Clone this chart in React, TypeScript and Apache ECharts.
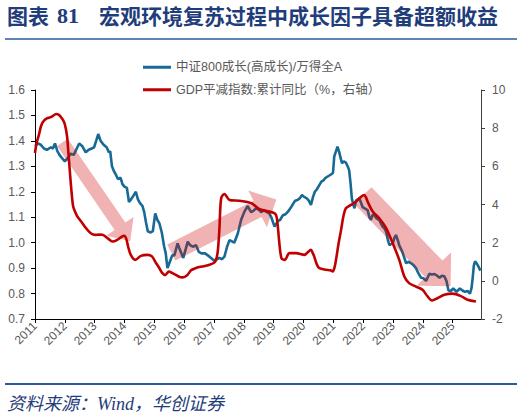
import React, { useEffect, useRef } from "react";
import * as echarts from "echarts";

const TITLE_PREFIX = "图表";
const TITLE_NUM = "81";
const TITLE_MAIN = "宏观环境复苏过程中成长因子具备超额收益";
const SOURCE = "资料来源：Wind，华创证券";
const BLUE_NAME = "中证800成长(高成长)/万得全A";
const RED_NAME = "GDP平减指数:累计同比（%，右轴）";

const yearTicks = [2011, 2012, 2013, 2014, 2015, 2016, 2017, 2018, 2019, 2020, 2021, 2022, 2023, 2024, 2025];

const blueDates = [
  2011.0, 2011.1, 2011.19, 2011.3, 2011.4, 2011.53, 2011.6, 2011.67, 2011.75, 2011.82, 2011.92,
  2012.0, 2012.08, 2012.2, 2012.3, 2012.4, 2012.48, 2012.58, 2012.7, 2012.8, 2012.9, 2012.98,
  2013.05, 2013.12, 2013.2, 2013.3, 2013.4, 2013.48, 2013.52, 2013.58, 2013.65, 2013.72, 2013.78, 2013.87, 2013.93,
  2014.0, 2014.08, 2014.15, 2014.22, 2014.3, 2014.38, 2014.45, 2014.52, 2014.6, 2014.66, 2014.72, 2014.78, 2014.88, 2014.95,
  2015.03, 2015.1, 2015.17, 2015.25, 2015.33, 2015.38, 2015.44, 2015.52, 2015.6, 2015.67, 2015.78, 2015.84, 2015.9, 2015.97,
  2016.04, 2016.12, 2016.2, 2016.29, 2016.4, 2016.49, 2016.58, 2016.7, 2016.85, 2017.0,
  2017.1, 2017.18, 2017.27, 2017.35, 2017.44, 2017.52, 2017.6, 2017.68, 2017.8, 2017.91,
  2018.02, 2018.13, 2018.24, 2018.32, 2018.41, 2018.5, 2018.58, 2018.67, 2018.75, 2018.85, 2018.92,
  2019.03, 2019.14, 2019.22, 2019.31, 2019.4, 2019.48, 2019.56, 2019.64, 2019.72, 2019.8, 2019.88, 2019.95,
  2020.02, 2020.1, 2020.18, 2020.25, 2020.32, 2020.38, 2020.45, 2020.53, 2020.6, 2020.67, 2020.74, 2020.81, 2020.88, 2020.95, 2020.99,
  2021.03, 2021.09, 2021.14, 2021.2, 2021.24, 2021.29, 2021.35, 2021.42, 2021.48, 2021.53, 2021.58, 2021.62, 2021.67, 2021.71, 2021.76, 2021.82, 2021.87, 2021.92, 2021.98,
  2022.05, 2022.15, 2022.21, 2022.26, 2022.32, 2022.37, 2022.45, 2022.54, 2022.6, 2022.65, 2022.72, 2022.77, 2022.83, 2022.88, 2022.94, 2022.99,
  2023.05, 2023.1, 2023.16, 2023.21, 2023.27, 2023.33, 2023.38, 2023.44, 2023.52, 2023.61, 2023.7, 2023.77, 2023.85, 2023.94,
  2024.02, 2024.11, 2024.17, 2024.22, 2024.3, 2024.39, 2024.48, 2024.56, 2024.64, 2024.72, 2024.79, 2024.86, 2024.94,
  2025.02, 2025.13, 2025.24, 2025.33, 2025.41, 2025.5, 2025.58, 2025.63, 2025.67, 2025.71, 2025.75, 2025.81, 2025.87, 2025.93,
];
const blueValues = [
  1.38, 1.39, 1.385, 1.37, 1.365, 1.375, 1.37, 1.39, 1.36, 1.345, 1.33,
  1.32, 1.33, 1.35, 1.345, 1.37, 1.39, 1.38, 1.355, 1.365, 1.37, 1.375,
  1.4, 1.427, 1.4, 1.385, 1.375, 1.355, 1.36, 1.3, 1.28, 1.265, 1.25, 1.255, 1.23,
  1.22, 1.215, 1.16, 1.17, 1.185, 1.2, 1.17, 1.155, 1.145, 1.12, 1.08, 1.045, 1.04, 1.045,
  1.115, 1.09, 1.076, 1.04, 0.984, 0.96, 0.9, 0.925, 0.95, 0.95, 0.997, 0.978, 0.96, 0.94,
  0.97, 1.004, 0.99, 0.984, 0.99, 0.964, 0.958, 0.958, 0.945, 0.93,
  0.935, 0.94, 0.935, 0.945, 0.985, 1.01, 1.005, 1.0, 1.037, 1.09,
  1.122, 1.144, 1.12, 1.125, 1.135, 1.13, 1.12, 1.128, 1.122, 1.115, 1.1,
  1.063, 1.085, 1.09, 1.108, 1.112, 1.122, 1.135, 1.15, 1.165, 1.168, 1.175, 1.187,
  1.18, 1.175, 1.165, 1.148, 1.18, 1.2, 1.21, 1.226, 1.24, 1.245, 1.255, 1.26, 1.265, 1.27, 1.275,
  1.338, 1.36, 1.377, 1.355, 1.335, 1.312, 1.32, 1.315, 1.3, 1.285, 1.23, 1.174, 1.15, 1.135, 1.165, 1.17, 1.175, 1.16, 1.14,
  1.135, 1.128, 1.1, 1.09, 1.11, 1.109, 1.095, 1.089, 1.075, 1.063, 1.055, 1.043, 1.01, 0.99, 0.995, 0.997,
  1.02, 1.03, 1.01, 0.99, 0.975, 0.958, 0.94, 0.919, 0.925, 0.919, 0.91, 0.9, 0.88, 0.862,
  0.86, 0.85, 0.865, 0.878, 0.875, 0.877, 0.87, 0.862, 0.87, 0.868, 0.85, 0.812, 0.81,
  0.82, 0.807, 0.82, 0.812, 0.807, 0.81, 0.8, 0.82, 0.86, 0.91, 0.927, 0.918, 0.905, 0.89,
];

const redDates = [
  2011.0, 2011.05, 2011.13, 2011.2, 2011.27, 2011.41, 2011.56, 2011.71, 2011.8, 2011.86, 2011.97,
  2012.03, 2012.08, 2012.12, 2012.16, 2012.2, 2012.24, 2012.28, 2012.35, 2012.42, 2012.59, 2012.7, 2012.81, 2012.92,
  2013.04, 2013.15, 2013.26, 2013.43, 2013.6, 2013.76, 2013.9, 2013.99,
  2014.06, 2014.12, 2014.21, 2014.36, 2014.55, 2014.77, 2014.92,
  2015.05, 2015.17, 2015.27, 2015.36, 2015.49, 2015.61, 2015.72, 2015.85, 2015.95,
  2016.11, 2016.23, 2016.38, 2016.51, 2016.7, 2016.85, 2017.0, 2017.07, 2017.13, 2017.18, 2017.24, 2017.35, 2017.52, 2017.85,
  2018.25, 2018.53, 2018.97, 2019.08, 2019.13, 2019.18, 2019.26, 2019.37, 2019.53, 2019.75,
  2020.03, 2020.18, 2020.25, 2020.31, 2020.36, 2020.45, 2020.53, 2020.76, 2020.9, 2020.98,
  2021.04, 2021.09, 2021.17, 2021.26, 2021.34, 2021.42, 2021.59, 2021.76, 2021.93,
  2022.04, 2022.1, 2022.15, 2022.32, 2022.54, 2022.77, 2022.99,
  2023.21, 2023.38, 2023.54, 2023.77, 2023.99,
  2024.16, 2024.31, 2024.49, 2024.72, 2025.0, 2025.28, 2025.5, 2025.78,
];
const redValues = [
  6.7, 7.2, 7.64, 8.1, 8.34, 8.52, 8.6, 8.74, 8.7, 8.6, 8.34,
  8.0, 7.5, 6.69, 5.9, 5.11, 4.4, 3.89, 3.6, 3.37, 3.02, 2.78, 2.58, 2.45,
  2.41, 2.42, 2.41, 2.24, 2.06, 2.15, 2.3, 2.36,
  2.2, 1.8, 1.36, 1.1, 1.31, 1.36, 1.28,
  0.95, 0.66, 0.4, 0.3, 0.49, 0.4, 0.31, 0.2, 0.18,
  0.31, 0.55, 0.66, 0.72, 0.78, 0.84, 0.95, 1.1, 1.6, 2.67, 4.33, 4.55, 4.24, 4.2,
  4.07, 3.75, 3.58, 3.45, 3.0, 2.15, 1.19, 1.1, 1.45, 1.45,
  1.36, 1.55, 1.62, 1.45, 1.27, 0.85, 0.66, 0.58, 0.55, 0.49,
  0.7, 1.1, 1.9, 2.67, 3.4, 3.8, 3.98, 4.15, 4.41,
  4.5, 4.35, 4.15, 3.63, 3.28, 2.76, 1.97,
  1.1, 0.23, -0.12, -0.3, -0.47,
  -0.82, -1.03, -0.91, -0.73, -0.67, -0.8, -0.99, -1.08,
];

// Trend arrows, anchored in (year, left-axis value) coordinates
const arrowTails = [
  [2011.92, 1.394],
  [2015.57, 0.961],
  [2021.99, 1.185],
];
const arrowTips = [
  [2014.19, 1.006],
  [2019.09, 1.17],
  [2024.93, 0.829],
];
// arrow shape in pixels (style only)
const ARROW_SIZES = [
  { shaft: 13, headW: 33, headL: 18 },
  { shaft: 18, headW: 41, headL: 21 },
  { shaft: 24, headW: 48, headL: 24 },
];

const NAVY = "#1f3d7a";
const RULE = "#2d5a9e";
const GRAY = "#595959";
const FONT = "'Liberation Sans', 'Noto Sans CJK SC', sans-serif";

function renderArrow(params: any, api: any) {
  const i = params.dataIndex;
  const a = api.coord([api.value(0), api.value(1)]);
  const b = api.coord([api.value(2), api.value(3)]);
  const dx = b[0] - a[0];
  const dy = b[1] - a[1];
  const len = Math.hypot(dx, dy) || 1;
  const ux = dx / len;
  const uy = dy / len;
  const nx = -uy;
  const ny = ux;
  const { shaft, headW, headL } = ARROW_SIZES[i];
  const bx = b[0] - ux * headL;
  const by = b[1] - uy * headL;
  const pts = [
    [a[0] + (nx * shaft) / 2, a[1] + (ny * shaft) / 2],
    [bx + (nx * shaft) / 2, by + (ny * shaft) / 2],
    [bx + (nx * headW) / 2, by + (ny * headW) / 2],
    [b[0], b[1]],
    [bx - (nx * headW) / 2, by - (ny * headW) / 2],
    [bx - (nx * shaft) / 2, by - (ny * shaft) / 2],
    [a[0] - (nx * shaft) / 2, a[1] - (ny * shaft) / 2],
  ];
  return {
    type: "polygon",
    shape: { points: pts },
    style: { fill: "rgba(204,0,0,0.3)" },
  };
}

export default function App() {
  const ref = useRef<HTMLDivElement>(null);

  useEffect(() => {
    document.body.style.margin = "0";
    if (!ref.current) return;
    const chart = echarts.init(ref.current, undefined, { renderer: "svg" });

    const blueData = blueDates.map((d, i) => [d, blueValues[i]]);
    const redData = redDates.map((d, i) => [d, redValues[i]]);
    const arrowData = arrowTails.map((t, i) => [t[0], t[1], arrowTips[i][0], arrowTips[i][1]]);

    chart.setOption({
      animation: false,
      backgroundColor: "#ffffff",
      grid: { left: 35, right: 43, top: 90, bottom: 100, containLabel: false },
      legend: {
        orient: "vertical",
        left: 143,
        top: 61,
        padding: 0,
        itemWidth: 28,
        itemHeight: 3,
        itemGap: 10,
        icon: "rect",
        textStyle: { color: GRAY, fontSize: 12.5, fontFamily: FONT },
        data: [BLUE_NAME, RED_NAME],
      },
      xAxis: {
        type: "value",
        min: 2011,
        max: 2025.95,
        interval: 1,
        axisLine: { show: true, onZero: false, lineStyle: { color: "#000", width: 1 } },
        axisTick: { show: true, length: 4, customValues: yearTicks, lineStyle: { color: "#000" } },
        axisLabel: {
          customValues: yearTicks,
          rotate: 45,
          margin: 5,
          color: GRAY,
          fontSize: 12,
          fontFamily: FONT,
          formatter: (v: number) => String(Math.round(v)),
        },
        splitLine: { show: false },
      },
      yAxis: [
        {
          type: "value",
          min: 0.7,
          max: 1.6,
          interval: 0.1,
          axisLine: { show: true, onZero: false, lineStyle: { color: "#000", width: 1 } },
          axisTick: { show: true, length: 4, lineStyle: { color: "#000" } },
          axisLabel: {
            color: GRAY,
            fontSize: 12,
            fontFamily: FONT,
            margin: 10,
            formatter: (v: number) => v.toFixed(1),
          },
          splitLine: { show: false },
        },
        {
          type: "value",
          position: "right",
          min: -2,
          max: 10,
          interval: 2,
          axisLine: { show: true, onZero: false, lineStyle: { color: "#404040", width: 1 } },
          axisTick: { show: true, length: 4, lineStyle: { color: "#404040" } },
          axisLabel: { color: GRAY, fontSize: 12, fontFamily: FONT, margin: 11 },
          splitLine: { show: false },
        },
      ],
      series: [
        {
          name: BLUE_NAME,
          type: "line",
          data: blueData,
          showSymbol: false,
          symbol: "none",
          z: 2,
          lineStyle: { color: "#176a95", width: 2.6 },
          itemStyle: { color: "#176a95" },
        },
        {
          name: "arrows",
          type: "custom",
          renderItem: renderArrow,
          data: arrowData,
          encode: { x: [0, 2], y: [1, 3] },
          silent: true,
          z: 3,
        },
        {
          name: RED_NAME,
          type: "line",
          yAxisIndex: 1,
          data: redData,
          showSymbol: false,
          symbol: "none",
          smooth: 0.3,
          z: 4,
          lineStyle: { color: "#c00000", width: 2.6 },
          itemStyle: { color: "#c00000" },
        },
      ],
      graphic: [
        {
          type: "text",
          left: 7,
          top: 4,
          style: { text: TITLE_PREFIX, fontSize: 21, fontWeight: "bold", fill: NAVY, fontFamily: "'Noto Sans CJK SC', sans-serif" },
        },
        {
          type: "text",
          left: 57,
          top: 4,
          style: { text: TITLE_NUM, fontSize: 22, fontWeight: "bold", fill: NAVY, fontFamily: "'Liberation Serif', serif" },
        },
        {
          type: "text",
          left: 99,
          top: 4,
          style: { text: TITLE_MAIN, fontSize: 21, fontWeight: "bold", fill: NAVY, fontFamily: "'Noto Sans CJK SC', sans-serif" },
        },
        {
          type: "line",
          shape: { x1: 5, y1: 39, x2: 517, y2: 39 },
          style: { stroke: RULE, lineWidth: 1.5 },
        },
        {
          type: "line",
          shape: { x1: 5, y1: 384, x2: 517, y2: 384 },
          style: { stroke: RULE, lineWidth: 2 },
        },
        {
          type: "text",
          left: 7,
          top: 395,
          style: {
            text: SOURCE,
            fontSize: 18,
            fontStyle: "italic",
            fill: NAVY,
            fontFamily: "'Liberation Serif', 'Noto Sans CJK SC', serif",
          },
        },
      ],
    });

    return () => chart.dispose();
  }, []);

  return <div ref={ref} style={{ position: "absolute", left: 0, top: 0, width: 524, height: 419 }} />;
}
